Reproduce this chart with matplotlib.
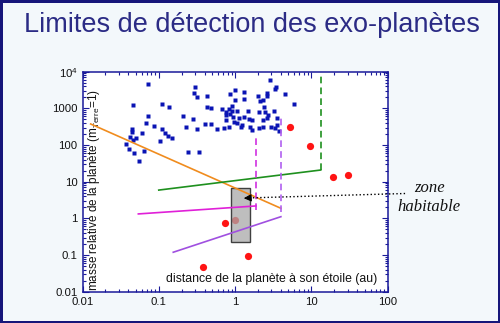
import matplotlib
matplotlib.use("Agg")
import matplotlib.pyplot as plt
from matplotlib.patches import Rectangle

plt.rcParams["font.family"] = ["Liberation Sans", "DejaVu Sans"]
plt.rcParams["mathtext.default"] = "regular"

# Known exoplanets (distance in au, mass in Earth masses)
planet_dist = [
    0.0716, 0.301, 0.287, 0.320, 0.429, 0.0459, 0.111, 0.137, 0.429, 0.208,
    0.279, 0.0716, 0.0687, 0.0859, 0.230, 0.320, 0.408, 0.0446, 0.0446, 0.0598,
    0.111, 0.121, 0.131, 0.149, 0.042, 0.0499, 0.0459, 0.037, 0.103, 0.041,
    0.0646, 0.0478, 0.0551, 0.240, 0.340,
    2.88, 3.45, 3.38, 4.49, 6.0, 1.0, 1.33, 2.02, 2.61, 2.66,
    0.860, 0.991, 1.33, 2.10, 2.35, 0.480, 0.92, 0.676, 0.826, 0.755,
    0.906, 1.07, 1.49, 2.06, 2.42, 2.44, 3.20, 0.765, 0.860, 0.942,
    1.14, 1.31, 1.53, 1.69, 2.72, 2.61, 2.35, 3.59, 0.76, 0.97,
    1.05, 1.22, 1.21, 0.84, 0.480, 0.575, 0.711, 1.57, 1.69, 2.08,
    2.31, 2.99, 3.32, 3.59, 3.78,
]
planet_mass = [
    4620, 3760, 2580, 2000, 2220, 1210, 1310, 1110, 1100, 620,
    500, 620, 392, 340, 316, 274, 368, 274, 222, 217,
    274, 217, 173, 155, 163, 158, 135, 109, 130, 79,
    70, 62, 37, 66, 66,
    5940, 3710, 3440, 2420, 1310, 3230, 2790, 2220, 2550, 2200,
    2420, 1660, 1800, 1590, 1660, 1050, 1190, 960, 980, 790,
    850, 850, 850, 810, 1080, 820, 850, 660, 690, 570,
    535, 580, 510, 482, 660, 560, 490, 535, 482, 433,
    392, 352, 305, 316, 368, 274, 290, 316, 255, 296,
    305, 310, 296, 352, 242,
]

# Solar system planets
solar_dist = [5.2, 9.7, 19.5, 30, 0.73, 1.0, 1.5, 0.38]
solar_mass = [310, 94, 13.4, 15.5, 0.74, 0.93, 0.092, 0.046]

# Detection limits
orange_x = [0.0128, 4.0]
orange_y = [375, 1.88]
green_x = [0.1, 13.3]
green_y = [5.9, 20.8]
green_top = 8100
magenta_x = [0.054, 1.88]
magenta_y = [1.32, 2.18]
magenta_bottom = 1.7
magenta_top = 161
purple_x = [0.155, 4.0]
purple_y = [0.119, 1.11]
purple_bottom = 1.5
purple_top = 660

# Habitable zone box
zone_x = [0.89, 1.59]
zone_y = [0.227, 6.6]

y_ticks = [0.01, 0.1, 1, 10, 100, 1000, 10000]
y_labels = ["0.01", "0.1", "1", "10", "100", "1000", "$10^4$"]
x_ticks = [0.01, 0.1, 1, 10, 100]
x_labels = ["0.01", "0.1", "1", "10", "100"]

axis_blue = "#1a1a9a"

fig = plt.figure(figsize=(5, 3.23), dpi=100)
fig.patch.set_facecolor("#f3f8fb")
fig.patch.set_edgecolor("#16167a")
fig.patch.set_linewidth(3.5)

ax = fig.add_axes([0.165, 0.097, 0.61, 0.681])
ax.set_facecolor("white")
ax.set_xscale("log")
ax.set_yscale("log")
ax.set_xlim(0.01, 100)
ax.set_ylim(0.01, 10000)

ax.plot(solar_dist, solar_mass, "o", color="#ff1414", ms=5.2, mec="none", zorder=1)
ax.add_patch(Rectangle((zone_x[0], zone_y[0]), zone_x[1] - zone_x[0], zone_y[1] - zone_y[0],
                       facecolor="#a8a8a8", alpha=0.75, edgecolor="none", zorder=2))
ax.add_patch(Rectangle((zone_x[0], zone_y[0]), zone_x[1] - zone_x[0], zone_y[1] - zone_y[0],
                       facecolor="none", edgecolor="#404040", lw=1, zorder=2))

ax.plot(planet_dist, planet_mass, "s", color="#0a14b4", ms=3.3, mec="none", zorder=3)

dash = (0, (4, 2.5))
ax.plot(orange_x, orange_y, color="#f08c1e", lw=1.2, zorder=4)
ax.plot(green_x, green_y, color="#1e901e", lw=1.2, zorder=4)
ax.plot([green_x[1], green_x[1]], [green_y[1], green_top], color="#1e901e", lw=1.2, ls=dash, zorder=4)
ax.plot(magenta_x, magenta_y, color="#e020d8", lw=1.2, zorder=4)
ax.plot([magenta_x[1], magenta_x[1]], [magenta_bottom, magenta_top], color="#d030e0", lw=1.2, ls=dash, zorder=4)
ax.plot(purple_x, purple_y, color="#a050e0", lw=1.2, zorder=4)
ax.plot([purple_x[1], purple_x[1]], [purple_bottom, purple_top], color="#b060f0", lw=1.2, ls=dash, zorder=4)

# Arrow pointing at the habitable zone
ax.plot([170, 1.45], [4.76, 3.6], ":", color="black", lw=1, clip_on=False, zorder=5)
ax.annotate("", xy=(1.2, 3.5), xytext=(1.5, 3.6),
            arrowprops=dict(arrowstyle="-|>", color="black", lw=0.8, mutation_scale=11),
            zorder=5)

ax.set_xticks(x_ticks)
ax.set_xticklabels(x_labels)
ax.set_yticks(y_ticks)
ax.set_yticklabels(y_labels)
ax.tick_params(which="both", direction="in", top=True, right=True, color=axis_blue,
               width=0.8, labelsize=8.2, labelcolor="#111111")
ax.tick_params(which="major", length=4, pad=3.5)
ax.tick_params(which="minor", length=2.2)
for spine in ax.spines.values():
    spine.set_color(axis_blue)
    spine.set_linewidth(1.1)

ax.text(0.038, 0.005, "masse relative de la planète (m$_{Terre}$=1)", rotation=90,
        transform=ax.transAxes, ha="center", va="bottom", fontsize=8.5, color="#111111")
ax.text(0.965, 0.058, "distance de la planète à son étoile (au)",
        transform=ax.transAxes, ha="right", va="center", fontsize=8.8, color="#111111")

fig.text(0.858, 0.389, "zone\nhabitable", ha="center", va="center", fontsize=12,
         style="italic", family=["Liberation Serif", "DejaVu Serif"], linespacing=1.25,
         color="#111111")

fig.text(0.504, 0.902, "Limites de détection des exo-planètes", ha="center", va="baseline",
         fontsize=19.5, color="#2b2b85")

fig.savefig("out.png", dpi=100, facecolor=fig.get_facecolor(), edgecolor=fig.get_edgecolor())
